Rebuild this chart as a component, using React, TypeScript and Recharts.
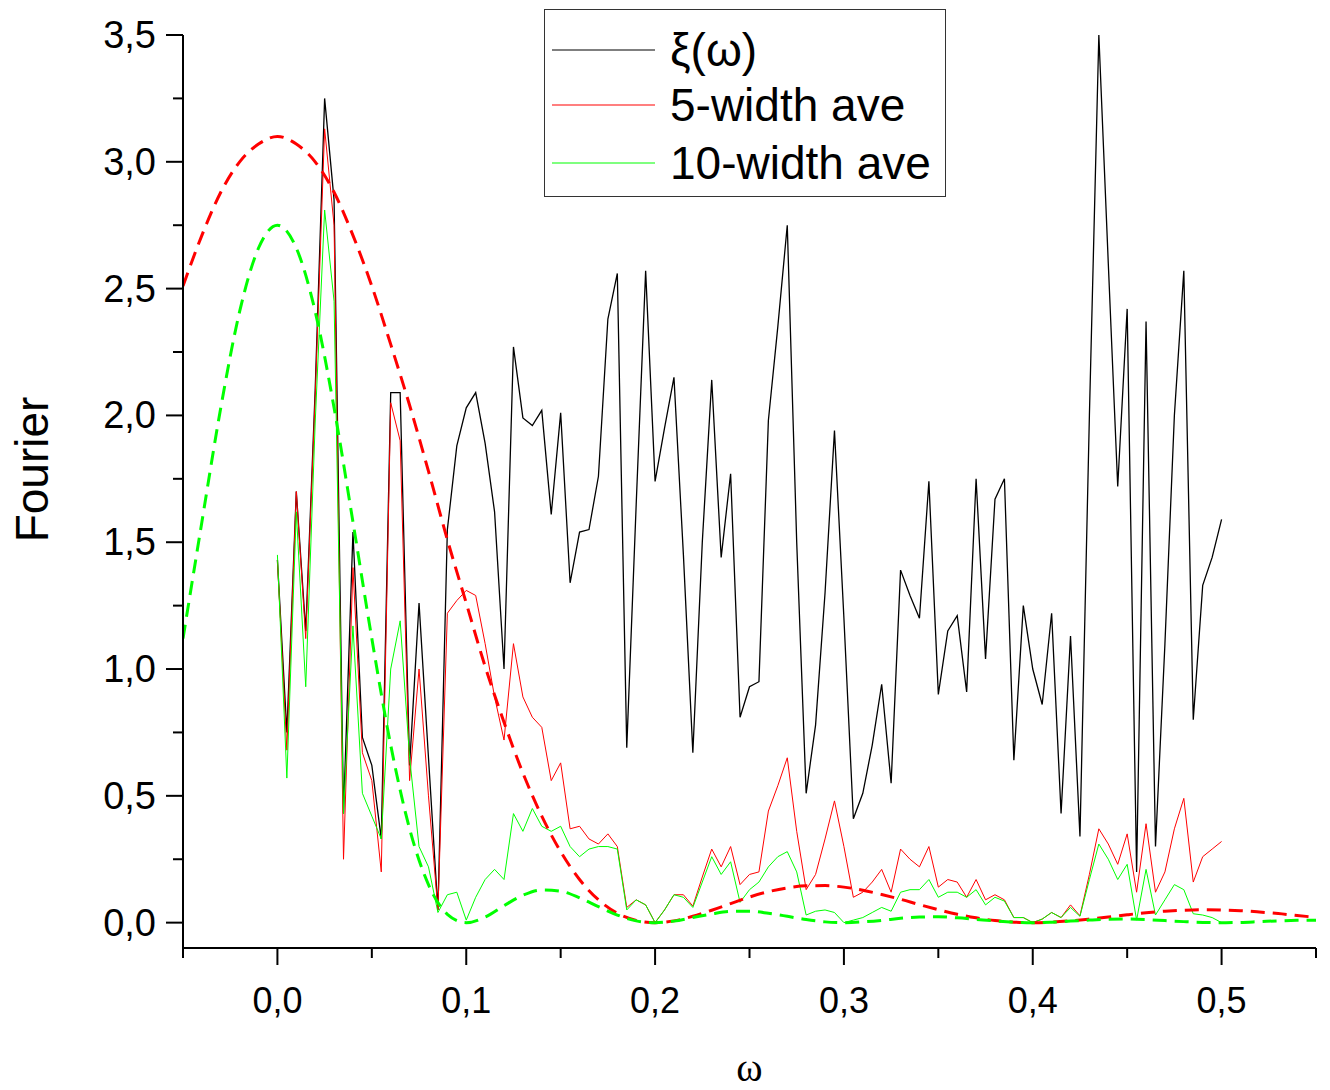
import React from 'react';
import { LineChart, Line, XAxis, YAxis, Legend } from 'recharts';

// ---------- data ----------
const OMEGA = [
  0, 0.005, 0.01, 0.015, 0.02, 0.025, 0.03, 0.035, 0.04, 0.045,
  0.05, 0.055, 0.06, 0.065, 0.07, 0.075, 0.08, 0.085, 0.09, 0.095,
  0.1, 0.105, 0.11, 0.115, 0.12, 0.125, 0.13, 0.135, 0.14, 0.145,
  0.15, 0.155, 0.16, 0.165, 0.17, 0.175, 0.18, 0.185, 0.19, 0.195,
  0.2, 0.205, 0.21, 0.215, 0.22, 0.225, 0.23, 0.235, 0.24, 0.245,
  0.25, 0.255, 0.26, 0.265, 0.27, 0.275, 0.28, 0.285, 0.29, 0.295,
  0.3, 0.305, 0.31, 0.315, 0.32, 0.325, 0.33, 0.335, 0.34, 0.345,
  0.35, 0.355, 0.36, 0.365, 0.37, 0.375, 0.38, 0.385, 0.39, 0.395,
  0.4, 0.405, 0.41, 0.415, 0.42, 0.425, 0.43, 0.435, 0.44, 0.445,
  0.45, 0.455, 0.46, 0.465, 0.47, 0.475, 0.48, 0.485, 0.49, 0.495,
  0.5,
];

const XI = [
  1.43, 0.75, 1.7, 1.15, 2.1, 3.25, 2.85, 0.43, 1.54, 0.73,
  0.62, 0.33, 2.09, 2.09, 0.62, 1.26, 0.65, 0.05, 1.55, 1.88,
  2.03, 2.09, 1.89, 1.62, 1.0, 2.27, 1.99, 1.96, 2.02, 1.61,
  2.01, 1.34, 1.54, 1.55, 1.76, 2.38, 2.56, 0.69, 1.65, 2.57,
  1.74, 1.95, 2.15, 1.45, 0.67, 1.5, 2.14, 1.44, 1.77, 0.81,
  0.93, 0.95, 1.98, 2.35, 2.75, 1.5, 0.51, 0.78, 1.3, 1.94,
  1.2, 0.41, 0.51, 0.7, 0.94, 0.55, 1.39, 1.29, 1.2, 1.74,
  0.9, 1.15, 1.21, 0.91, 1.75, 1.04, 1.67, 1.75, 0.64, 1.25,
  1.0, 0.86, 1.22, 0.43, 1.13, 0.34, 2.0, 3.5, 2.6, 1.72,
  2.42, 0.2, 2.37, 0.3, 1.1, 2.0, 2.57, 0.8, 1.33, 1.44,
  1.59,
];

const AVE5 = [
  1.43, 0.68, 1.7, 1.12, 2.07, 3.13, 2.75, 0.25, 1.4, 0.67,
  0.56, 0.2, 2.05, 1.9, 0.56, 1.0, 0.5, 0.05, 1.22, 1.27,
  1.31, 1.29, 1.1, 0.89, 0.72, 1.1, 0.89, 0.81, 0.77, 0.56,
  0.63, 0.37, 0.38, 0.33, 0.31, 0.35, 0.3, 0.06, 0.09, 0.07,
  0.0, 0.05, 0.11, 0.11, 0.065, 0.18, 0.29, 0.22, 0.3, 0.15,
  0.19, 0.2, 0.44, 0.54, 0.65, 0.36, 0.13, 0.19, 0.33, 0.48,
  0.3, 0.1, 0.12, 0.16, 0.21, 0.12, 0.29, 0.25, 0.22, 0.3,
  0.14, 0.17, 0.16, 0.1, 0.17, 0.09, 0.11, 0.09, 0.02, 0.02,
  0.0, 0.014, 0.04, 0.02, 0.07, 0.027, 0.19, 0.37, 0.31, 0.23,
  0.35, 0.12, 0.39, 0.12, 0.2, 0.37, 0.49, 0.16, 0.26, 0.29,
  0.32,
];

const AVE10 = [
  1.45, 0.57, 1.62, 0.93, 1.97, 2.81, 2.45, 0.43, 1.17, 0.51,
  0.42, 0.33, 1.0, 1.19, 0.65, 0.3, 0.22, 0.04, 0.11, 0.12,
  0.01, 0.1, 0.17, 0.21, 0.17, 0.43, 0.36, 0.45, 0.38, 0.36,
  0.38, 0.3, 0.26, 0.29, 0.3, 0.3, 0.29, 0.05, 0.09, 0.07,
  0.0, 0.05, 0.11, 0.1, 0.06, 0.16, 0.26, 0.19, 0.24, 0.08,
  0.13, 0.16, 0.22, 0.26, 0.28, 0.2, 0.03, 0.045, 0.05, 0.04,
  0.0, 0.01, 0.02, 0.04, 0.06, 0.045, 0.12, 0.13, 0.13, 0.17,
  0.1, 0.12, 0.12, 0.1, 0.13, 0.07, 0.1, 0.085, 0.02, 0.02,
  0.0, 0.014, 0.04, 0.02, 0.06, 0.025, 0.17, 0.31, 0.25, 0.17,
  0.23, 0.01, 0.21, 0.03, 0.09, 0.15, 0.13, 0.035, 0.03, 0.02,
  0.0,
];

const CURVE_OMEGA = [
  -0.05, -0.04, -0.03, -0.02, -0.01, 0, 0.01, 0.02, 0.03, 0.04,
  0.05, 0.06, 0.07, 0.08, 0.09, 0.1, 0.11, 0.12, 0.13, 0.14,
  0.15, 0.16, 0.17, 0.18, 0.19, 0.2, 0.21, 0.22, 0.23, 0.24,
  0.25, 0.26, 0.27, 0.28, 0.29, 0.3, 0.31, 0.32, 0.33, 0.34,
  0.35, 0.36, 0.37, 0.38, 0.39, 0.4, 0.41, 0.42, 0.43, 0.44,
  0.45, 0.46, 0.47, 0.48, 0.49, 0.5, 0.51, 0.52, 0.53, 0.54,
  0.55,
];

const ENV5 = [
  2.51, 2.71, 2.88, 3.0, 3.07, 3.1, 3.07, 3.0, 2.88, 2.71,
  2.51, 2.28, 2.04, 1.78, 1.51, 1.26, 1.01, 0.79, 0.59, 0.42,
  0.28, 0.17, 0.09, 0.037, 0.009, 0.0, 0.007, 0.025, 0.049, 0.075,
  0.101, 0.122, 0.137, 0.145, 0.146, 0.14, 0.128, 0.111, 0.092, 0.071,
  0.051, 0.033, 0.019, 0.008, 0.002, 0.0, 0.002, 0.007, 0.014, 0.022,
  0.031, 0.039, 0.045, 0.049, 0.051, 0.05, 0.047, 0.042, 0.036, 0.028,
  0.021,
];

const ENV10 = [
  1.12, 1.58, 2.03, 2.41, 2.66, 2.75, 2.66, 2.41, 2.03, 1.58,
  1.12, 0.7, 0.37, 0.15, 0.033, 0.0, 0.022, 0.067, 0.108, 0.129,
  0.124, 0.098, 0.063, 0.03, 0.007, 0.0, 0.006, 0.02, 0.034, 0.044,
  0.045, 0.037, 0.025, 0.012, 0.003, 0.0, 0.003, 0.009, 0.017, 0.022,
  0.023, 0.019, 0.013, 0.007, 0.002, 0.0, 0.002, 0.006, 0.01, 0.013,
  0.014, 0.012, 0.008, 0.004, 0.001, 0.0, 0.001, 0.004, 0.007, 0.009,
  0.009,
];

const X_TICKS = [-0.05, 0, 0.05, 0.1, 0.15, 0.2, 0.25, 0.3, 0.35, 0.4, 0.45, 0.5, 0.55];
const X_MAJOR = [0, 0.1, 0.2, 0.3, 0.4, 0.5];
const Y_TICKS = [0, 0.25, 0.5, 0.75, 1, 1.25, 1.5, 1.75, 2, 2.25, 2.5, 2.75, 3, 3.25, 3.5];
const Y_MAJOR = [0, 0.5, 1, 1.5, 2, 2.5, 3, 3.5];

const LEGEND_LABELS = ['ξ(ω)', '5-width ave', '10-width ave'];
const COLORS = { xi: '#000000', ave5: '#ff0000', ave10: '#00ff00' };

const mainData = OMEGA.map((w, i) => ({ w, xi: XI[i], ave5: AVE5[i], ave10: AVE10[i] }));
const curveData = CURVE_OMEGA.map((w, i) => ({ w, env5: ENV5[i], env10: ENV10[i] }));

const FONT = '"Liberation Sans", Arial, sans-serif';
const fmt = (v: number) => v.toFixed(1).replace('.', ',');
const isIn = (arr: number[], v: number) => arr.some((m) => Math.abs(m - v) < 1e-6);

const XTick = (props: any) => {
  const { x, y, payload } = props;
  const major = isIn(X_MAJOR, payload.value);
  return (
    <g>
      <line x1={x} x2={x} y1={y} y2={y + (major ? 17 : 10)} stroke="#000" strokeWidth={2} />
      {major && (
        <text x={x} y={y + 52} textAnchor="middle" dominantBaseline="central" fontSize={36} fontFamily={FONT} fill="#000">
          {fmt(payload.value)}
        </text>
      )}
    </g>
  );
};

const YTick = (props: any) => {
  const { x, y, payload } = props;
  const major = isIn(Y_MAJOR, payload.value);
  return (
    <g>
      <line x1={x - (major ? 17 : 10)} x2={x} y1={y} y2={y} stroke="#000" strokeWidth={2} />
      {major && (
        <text x={x - 27} y={y} textAnchor="end" dominantBaseline="central" fontSize={38} fontFamily={FONT} fill="#000">
          {fmt(payload.value)}
        </text>
      )}
    </g>
  );
};

const LegendBox = () => {
  const rows = [
    { label: LEGEND_LABELS[0], color: COLORS.xi },
    { label: LEGEND_LABELS[1], color: COLORS.ave5 },
    { label: LEGEND_LABELS[2], color: COLORS.ave10 },
  ];
  const ys = [41, 96, 154];
  return (
    <svg width={402} height={188} style={{ display: 'block' }}>
      <rect x={0.5} y={0.5} width={401} height={187} fill="#fff" stroke="#333" strokeWidth={1} />
      {rows.map((r, i) => (
        <g key={r.label}>
          <line x1={8} x2={111} y1={ys[i]} y2={ys[i]} stroke={r.color} strokeWidth={1.2} />
          <text x={126} y={ys[i]} dominantBaseline="central" fontSize={46} fontFamily={FONT} fill="#000">
            {r.label}
          </text>
        </g>
      ))}
    </svg>
  );
};

const YLabel = (props: any) => {
  const vb = props.viewBox || { y: 35, height: 913 };
  const cx = 48;
  const cy = vb.y + vb.height / 2 - 22;
  return (
    <text x={cx} y={cy} transform={`rotate(-90, ${cx}, ${cy})`} textAnchor="middle" fontSize={46} fontFamily={FONT} fill="#000">
      Fourier
    </text>
  );
};

const XLabel = (props: any) => {
  const vb = props.viewBox || { x: 183, y: 948, width: 1133, height: 142 };
  return (
    <text x={vb.x + vb.width / 2} y={vb.y + 133} textAnchor="middle" fontSize={40} fontFamily='"Liberation Serif", "DejaVu Serif", serif' fill="#000">
      ω
    </text>
  );
};

export default function App() {
  return (
    <div style={{ position: 'absolute', left: 0, top: 0, width: 1330, height: 1090, background: '#fff' }}>
      <LineChart width={1330} height={1090} margin={{ top: 35, right: 14, bottom: 0, left: 0 }}>
        <XAxis
          dataKey="w"
          type="number"
          domain={[-0.05, 0.55]}
          ticks={X_TICKS}
          interval={0}
          allowDataOverflow
          height={142}
          tickSize={0}
          tickMargin={0}
          tickLine={false}
          tick={<XTick />}
          axisLine={{ stroke: '#000', strokeWidth: 2 }}
          label={<XLabel />}
        />
        <YAxis
          type="number"
          domain={[-0.1, 3.5]}
          ticks={Y_TICKS}
          interval={0}
          allowDataOverflow
          width={183}
          tickSize={0}
          tickMargin={0}
          tickLine={false}
          tick={<YTick />}
          axisLine={{ stroke: '#000', strokeWidth: 2 }}
          label={<YLabel />}
        />
        <Legend
          layout="vertical"
          align="center"
          verticalAlign="middle"
          content={<LegendBox />}
          wrapperStyle={{ position: 'absolute', left: 544, top: 9, width: 402, height: 188 }}
        />
        <Line data={mainData} dataKey="xi" type="linear" stroke={COLORS.xi} strokeWidth={1.3} dot={false} isAnimationActive={false} />
        <Line data={mainData} dataKey="ave5" type="linear" stroke={COLORS.ave5} strokeWidth={1} dot={false} isAnimationActive={false} />
        <Line data={mainData} dataKey="ave10" type="linear" stroke={COLORS.ave10} strokeWidth={1} dot={false} isAnimationActive={false} />
        <Line data={curveData} dataKey="env5" type="monotone" stroke="#ff0000" strokeWidth={3} strokeDasharray="14 8" dot={false} isAnimationActive={false} />
        <Line data={curveData} dataKey="env10" type="monotone" stroke="#00ff00" strokeWidth={3} strokeDasharray="14 8" dot={false} isAnimationActive={false} />
      </LineChart>
    </div>
  );
}
